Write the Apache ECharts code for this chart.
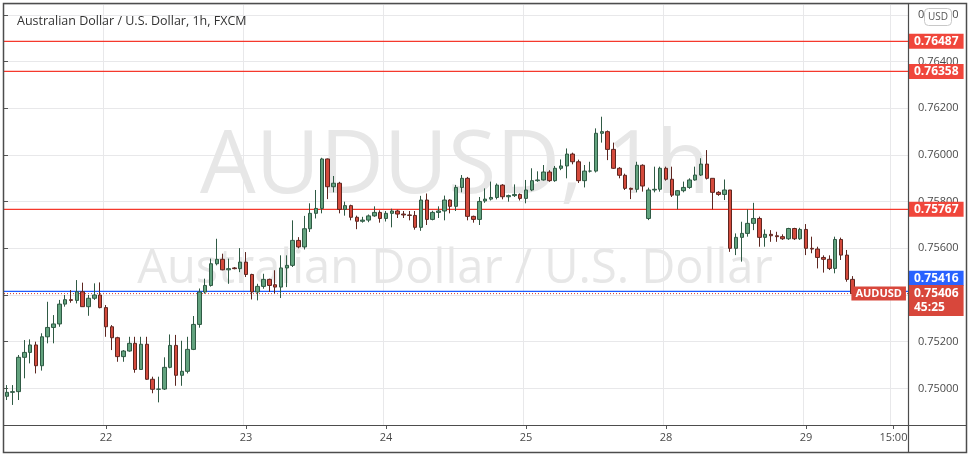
<!DOCTYPE html>
<html>
<head>
<meta charset="utf-8">
<script src="https://cdn.jsdelivr.net/npm/echarts@6/dist/echarts.min.js"></script>
<style>
  html, body { margin: 0; padding: 0; background: #fff; }
  #chart { width: 973px; height: 456px; }
</style>
</head>
<body>
<div id="chart"></div>
<script>
// trading sessions shown on the axis: [day, first hour, last hour]
const sessions = [
  ["21", 7, 23], ["22", 0, 23], ["23", 0, 23], ["24", 0, 23],
  ["25", 0, 20], ["27", 21, 23], ["28", 0, 23], ["29", 0, 17]
];
const extraTickLabel = "29 15:00";

// hourly candles, AUD/USD
const opens = [
  0.74966, 0.74983, 0.74986, 0.75133, 0.75154, 0.75186, 0.75097, 0.75221, 0.75261, 0.75276,
  0.75361, 0.75380, 0.75377, 0.75414, 0.75350, 0.75386, 0.75400, 0.75346, 0.75264, 0.75217,
  0.75136, 0.75160, 0.75193, 0.75081, 0.75189, 0.75039, 0.74996, 0.74997, 0.75090, 0.75184,
  0.75056, 0.75073, 0.75167, 0.75274, 0.75413, 0.75441, 0.75534, 0.75553, 0.75508, 0.75516,
  0.75513, 0.75541, 0.75488, 0.75413, 0.75437, 0.75467, 0.75444, 0.75434, 0.75516, 0.75527,
  0.75634, 0.75606, 0.75684, 0.75750, 0.75771, 0.75983, 0.75864, 0.75879, 0.75767, 0.75783,
  0.75733, 0.75716, 0.75721, 0.75739, 0.75754, 0.75728, 0.75750, 0.75760, 0.75747, 0.75743,
  0.75741, 0.75690, 0.75807, 0.75724, 0.75754, 0.75760, 0.75807, 0.75780, 0.75861, 0.75900,
  0.75737, 0.75724, 0.75803, 0.75811, 0.75818, 0.75871, 0.75821, 0.75826, 0.75831, 0.75814,
  0.75850, 0.75890, 0.75893, 0.75927, 0.75890, 0.75943, 0.75953, 0.76004, 0.75971, 0.75890,
  0.75931, 0.75931, 0.76093, 0.76100, 0.76024, 0.75943, 0.75913, 0.75857, 0.75853, 0.75956,
  0.75728, 0.75850, 0.75853, 0.75943, 0.75896, 0.75828, 0.75847, 0.75861, 0.75893, 0.75914,
  0.75961, 0.75900, 0.75840, 0.75831, 0.75850, 0.75600, 0.75647, 0.75664, 0.75707, 0.75728,
  0.75647, 0.75660, 0.75654, 0.75650, 0.75641, 0.75685, 0.75641, 0.75681, 0.75600, 0.75597,
  0.75561, 0.75553, 0.75514, 0.75638, 0.75571, 0.75467
];
const closes = [
  0.74983, 0.74986, 0.75133, 0.75154, 0.75186, 0.75097, 0.75221, 0.75261, 0.75276, 0.75361,
  0.75380, 0.75377, 0.75414, 0.75350, 0.75386, 0.75400, 0.75346, 0.75264, 0.75217, 0.75136,
  0.75160, 0.75193, 0.75081, 0.75189, 0.75039, 0.74996, 0.74997, 0.75090, 0.75184, 0.75056,
  0.75073, 0.75167, 0.75274, 0.75413, 0.75441, 0.75534, 0.75553, 0.75508, 0.75513, 0.75513,
  0.75541, 0.75488, 0.75413, 0.75437, 0.75467, 0.75441, 0.75434, 0.75516, 0.75527, 0.75634,
  0.75606, 0.75684, 0.75750, 0.75771, 0.75983, 0.75864, 0.75879, 0.75767, 0.75783, 0.75733,
  0.75716, 0.75721, 0.75739, 0.75754, 0.75728, 0.75750, 0.75760, 0.75747, 0.75743, 0.75741,
  0.75690, 0.75807, 0.75724, 0.75754, 0.75760, 0.75807, 0.75780, 0.75861, 0.75900, 0.75737,
  0.75724, 0.75801, 0.75811, 0.75818, 0.75871, 0.75821, 0.75826, 0.75831, 0.75814, 0.75850,
  0.75890, 0.75893, 0.75927, 0.75890, 0.75943, 0.75953, 0.76004, 0.75971, 0.75890, 0.75931,
  0.75931, 0.76093, 0.76100, 0.76024, 0.75943, 0.75913, 0.75857, 0.75853, 0.75956, 0.75867,
  0.75850, 0.75853, 0.75943, 0.75896, 0.75828, 0.75847, 0.75861, 0.75893, 0.75914, 0.75961,
  0.75900, 0.75840, 0.75831, 0.75850, 0.75600, 0.75647, 0.75664, 0.75707, 0.75728, 0.75647,
  0.75660, 0.75654, 0.75650, 0.75641, 0.75685, 0.75641, 0.75681, 0.75600, 0.75597, 0.75561,
  0.75553, 0.75514, 0.75638, 0.75571, 0.75467, 0.75406
];
const lows = [
  0.74950, 0.74929, 0.74950, 0.75043, 0.75107, 0.75064, 0.75076, 0.75193, 0.75193, 0.75264,
  0.75350, 0.75367, 0.75364, 0.75350, 0.75311, 0.75379, 0.75343, 0.75221, 0.75164, 0.75114,
  0.75114, 0.75157, 0.75067, 0.75079, 0.75036, 0.74979, 0.74940, 0.74993, 0.75086, 0.75011,
  0.75011, 0.75064, 0.75164, 0.75260, 0.75406, 0.75436, 0.75527, 0.75506, 0.75448, 0.75510,
  0.75498, 0.75477, 0.75381, 0.75377, 0.75427, 0.75413, 0.75406, 0.75387, 0.75434, 0.75520,
  0.75600, 0.75595, 0.75670, 0.75728, 0.75750, 0.75811, 0.75840, 0.75750, 0.75740, 0.75720,
  0.75682, 0.75710, 0.75712, 0.75735, 0.75710, 0.75715, 0.75690, 0.75730, 0.75730, 0.75720,
  0.75680, 0.75675, 0.75700, 0.75720, 0.75730, 0.75720, 0.75750, 0.75760, 0.75840, 0.75720,
  0.75710, 0.75700, 0.75795, 0.75805, 0.75810, 0.75810, 0.75800, 0.75820, 0.75805, 0.75793,
  0.75845, 0.75885, 0.75890, 0.75885, 0.75885, 0.75935, 0.75900, 0.75960, 0.75880, 0.75861,
  0.75925, 0.75925, 0.76053, 0.75978, 0.75940, 0.75900, 0.75850, 0.75811, 0.75840, 0.75843,
  0.75721, 0.75840, 0.75843, 0.75890, 0.75820, 0.75767, 0.75840, 0.75855, 0.75890, 0.75910,
  0.75895, 0.75767, 0.75825, 0.75807, 0.75585, 0.75571, 0.75543, 0.75650, 0.75678, 0.75607,
  0.75607, 0.75628, 0.75628, 0.75636, 0.75636, 0.75636, 0.75636, 0.75571, 0.75579, 0.75514,
  0.75496, 0.75507, 0.75493, 0.75550, 0.75457, 0.75381
];
const highs = [
  0.75014, 0.75014, 0.75143, 0.75207, 0.75210, 0.75200, 0.75236, 0.75371, 0.75314, 0.75379,
  0.75400, 0.75421, 0.75464, 0.75453, 0.75400, 0.75450, 0.75454, 0.75357, 0.75271, 0.75221,
  0.75164, 0.75221, 0.75221, 0.75221, 0.75221, 0.75050, 0.75050, 0.75133, 0.75231, 0.75229,
  0.75204, 0.75221, 0.75310, 0.75428, 0.75470, 0.75556, 0.75641, 0.75577, 0.75556, 0.75520,
  0.75601, 0.75584, 0.75491, 0.75448, 0.75491, 0.75470, 0.75506, 0.75570, 0.75570, 0.75720,
  0.75648, 0.75739, 0.75793, 0.75850, 0.75988, 0.75985, 0.75910, 0.75885, 0.75800, 0.75787,
  0.75740, 0.75735, 0.75745, 0.75780, 0.75763, 0.75760, 0.75770, 0.75765, 0.75760, 0.75760,
  0.75760, 0.75825, 0.75835, 0.75761, 0.75780, 0.75826, 0.75810, 0.75872, 0.75914, 0.75906,
  0.75740, 0.75820, 0.75857, 0.75886, 0.75878, 0.75875, 0.75830, 0.75874, 0.75835, 0.75893,
  0.75943, 0.75930, 0.75957, 0.75935, 0.75953, 0.75981, 0.76028, 0.76010, 0.75980, 0.75957,
  0.75971, 0.76114, 0.76164, 0.76105, 0.76053, 0.75948, 0.75920, 0.75860, 0.75971, 0.75960,
  0.75860, 0.75950, 0.75950, 0.75950, 0.75950, 0.75850, 0.75886, 0.75900, 0.75950, 0.75986,
  0.76021, 0.75900, 0.75845, 0.75895, 0.75850, 0.75664, 0.75714, 0.75767, 0.75795, 0.75736,
  0.75681, 0.75678, 0.75671, 0.75660, 0.75688, 0.75688, 0.75688, 0.75704, 0.75650, 0.75607,
  0.75570, 0.75570, 0.75650, 0.75646, 0.75593, 0.75481
];

// horizontal levels drawn on the chart
const resistanceLevels = [0.76487, 0.76358, 0.75767];
const prevCloseLevel = 0.75416;
const lastPrice = 0.75406;
const countdown = "45:25";
const symbolName = "AUDUSD";

const FONT = "'Open Sans', 'Noto Sans', sans-serif";
const RED = "#f0463b";
const LAST_RED = "#d8473b";
const BLUE = "#2962ff";

const categories = [];
sessions.forEach(([day, h0, h1]) => {
  for (let h = h0; h <= h1; h++) {
    categories.push(day + " " + (h < 10 ? "0" + h : h) + ":00");
  }
});
const isTick = (i, v) => v.endsWith(" 00:00") || v === extraTickLabel;

const candles = categories.map((c, i) =>
  i < opens.length ? [opens[i], closes[i], lows[i], highs[i]] : "-"
);

const tag = (bg, extra) => Object.assign({
  show: true,
  distance: 1,
  color: "#fff",
  backgroundColor: bg,
  fontFamily: FONT,
  fontSize: 12,
  fontWeight: "bold",
  padding: [2, 5, 1, 5]
}, extra || {});

// a full-width horizontal line on the hidden 0..1 x axis, tagged on the price scale
const levelLine = (value, lineStyle, endLabel) => ({
  type: "line",
  xAxisIndex: 1,
  yAxisIndex: 0,
  z: 4,
  silent: true,
  symbol: "none",
  lineStyle: Object.assign({ opacity: 1, shadowBlur: 0 }, lineStyle),
  emphasis: { disabled: true },
  data: [[0, value], [1, value]],
  endLabel: endLabel
});

const series = [{
  type: "candlestick",
  data: candles,
  barWidth: 4,
  z: 5,
  itemStyle: {
    color: "#62a27e",
    color0: "#d44a3c",
    borderColor: "#2f5a44",
    borderColor0: "#5e2620",
    borderWidth: 1
  }
}];
resistanceLevels.forEach(v => {
  series.push(levelLine(v, { color: "#f5382c", width: 1.2 },
    tag(RED, { formatter: p => p.value[1].toFixed(5) })));
});
series.push(levelLine(prevCloseLevel, { color: "#1e5bff", width: 1.2 },
  tag(BLUE, { offset: [0, -13], formatter: p => p.value[1].toFixed(5) })));
series.push(levelLine(lastPrice, { color: "#d0392e", width: 1, type: [1, 2] },
  tag(LAST_RED, {
    offset: [0, 7],
    lineHeight: 14,
    formatter: p => p.value[1].toFixed(5) + "\n" + countdown
  })));
// symbol tag sitting just left of the price scale
series.push({
  type: "line",
  xAxisIndex: 1,
  yAxisIndex: 0,
  z: 6,
  silent: true,
  symbol: "rect",
  symbolSize: 0.1,
  showSymbol: true,
  lineStyle: { opacity: 0 },
  itemStyle: { color: LAST_RED },
  data: [
    [0, lastPrice],
    {
      value: [1, lastPrice],
      label: tag(LAST_RED, {
        position: "left",
        distance: 2,
        fontSize: 11,
        padding: [2, 4, 1, 4],
        formatter: symbolName
      })
    }
  ]
});

const chart = echarts.init(document.getElementById("chart"), null, { renderer: "canvas" });
chart.setOption({
  animation: false,
  backgroundColor: "#fff",
  title: {
    text: "Australian Dollar / U.S. Dollar, 1h, FXCM",
    left: 12,
    top: 10,
    textStyle: { fontFamily: FONT, fontSize: 12.5, fontWeight: "normal", color: "#333" }
  },
  grid: { left: 4, right: 65, top: 4, bottom: 31 },
  xAxis: [
    {
      type: "category",
      data: categories,
      boundaryGap: true,
      axisLine: { show: false },
      axisTick: { show: true, alignWithLabel: true, interval: isTick, length: 4, lineStyle: { color: "#555" } },
      axisLabel: {
        interval: isTick,
        margin: 7,
        fontFamily: FONT,
        fontSize: 11,
        color: "#4a4a4a",
        formatter: v => v.endsWith(" 00:00") ? v.split(" ")[0] : v.split(" ")[1]
      },
      splitLine: { show: true, interval: isTick, lineStyle: { color: "#e8e8ea", width: 1 } }
    },
    { type: "value", min: 0, max: 1, show: false }
  ],
  yAxis: {
    type: "value",
    position: "right",
    scale: true,
    min: 0.74843,
    max: 0.76647,
    splitNumber: 9,
    axisLine: { show: false },
    axisTick: { show: true, length: 4, lineStyle: { color: "#555" } },
    axisLabel: {
      margin: 10,
      fontFamily: FONT,
      fontSize: 11,
      color: "#4a4a4a",
      showMinLabel: false,
      showMaxLabel: false,
      formatter: v => v.toFixed(5)
    },
    splitLine: { show: true, lineStyle: { color: "#e8e8ea", width: 1 } }
  },
  graphic: [
    {
      type: "text", z: 1, silent: true,
      style: { x: 455, y: 168, text: "AUDUSD, 1h", fontFamily: FONT, fontSize: 88,
        fill: "#e7e7e7", align: "center", verticalAlign: "middle" }
    },
    {
      type: "text", z: 1, silent: true,
      style: { x: 455, y: 270, text: "Australian Dollar / U.S. Dollar", fontFamily: FONT, fontSize: 47,
        fill: "#e7e7e7", align: "center", verticalAlign: "middle" }
    },
    {
      type: "rect", z: 50, silent: true,
      shape: { x: 3.5, y: 3.5, width: 963, height: 449 },
      style: { fill: "none", stroke: "#4d4d4d", lineWidth: 1.5 }
    },
    {
      type: "line", z: 50, silent: true,
      shape: { x1: 908.5, y1: 3, x2: 908.5, y2: 453 },
      style: { stroke: "#4d4d4d", lineWidth: 1.2 }
    },
    {
      type: "line", z: 50, silent: true,
      shape: { x1: 3, y1: 425.5, x2: 966, y2: 425.5 },
      style: { stroke: "#4d4d4d", lineWidth: 1.2 }
    },
    {
      type: "rect", z: 60, silent: true,
      shape: { x: 924.5, y: 8.5, width: 27, height: 17, r: 4 },
      style: { fill: "#fff", stroke: "#c8c8c8", lineWidth: 1 }
    },
    {
      type: "text", z: 61, silent: true,
      style: { x: 938, y: 17, text: "USD", fontFamily: FONT, fontSize: 10, fill: "#555",
        align: "center", verticalAlign: "middle" }
    }
  ],
  series: series
});
</script>
</body>
</html>
